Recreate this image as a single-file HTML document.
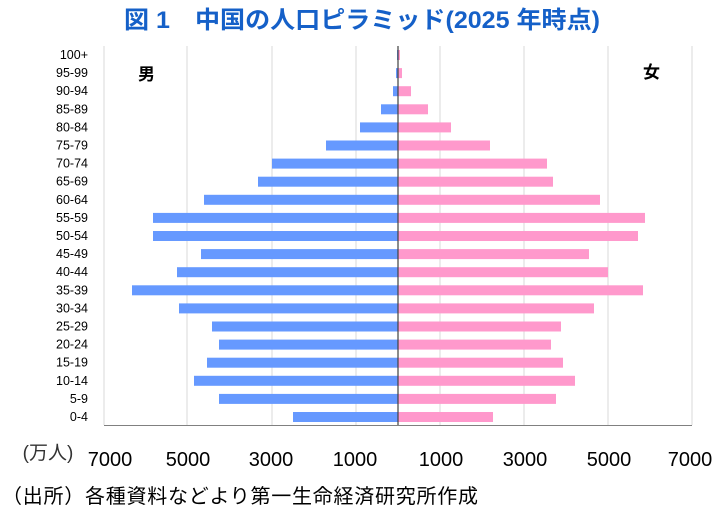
<!DOCTYPE html>
<html><head><meta charset="utf-8"><style>
body{margin:0;background:#fff;width:723px;height:515px;overflow:hidden;font-family:"Liberation Sans","Noto Sans CJK JP",sans-serif}
</style></head><body>
<svg width="723" height="515" xmlns="http://www.w3.org/2000/svg" font-family="Liberation Sans, Noto Sans CJK JP, sans-serif">
<text x="362" y="28" text-anchor="middle" font-size="24" font-weight="bold" fill="#1560c8" textLength="476" lengthAdjust="spacingAndGlyphs">図 1　中国の人口ピラミッド(2025 年時点)</text>
<g stroke="#d9d9d9" stroke-width="1">
<line x1="104" y1="46" x2="104" y2="425"/><line x1="187" y1="46" x2="187" y2="425"/><line x1="272" y1="46" x2="272" y2="425"/><line x1="356" y1="46" x2="356" y2="425"/>
<line x1="440" y1="46" x2="440" y2="425"/><line x1="524" y1="46" x2="524" y2="425"/><line x1="608" y1="46" x2="608" y2="425"/><line x1="692" y1="46" x2="692" y2="425"/>
</g>
<g id="bars"></g>
<line x1="104" y1="425.5" x2="692" y2="425.5" stroke="#808080" stroke-width="1"/>
<line x1="398" y1="46" x2="398" y2="425" stroke="#404040" stroke-width="1.2"/>
<g id="labels" font-size="12.5" text-anchor="end" fill="#000"></g>
<text x="138" y="80" font-size="17" font-weight="bold">男</text>
<text x="643" y="78" font-size="17" font-weight="bold">女</text>
<g font-size="20" fill="#000" text-anchor="middle">
<text x="48" y="459" font-size="19" fill="#333">(万人)</text>
<text x="110" y="466">7000</text><text x="188" y="466">5000</text><text x="271" y="466">3000</text><text x="355" y="466">1000</text>
<text x="441" y="466">1000</text><text x="525" y="466">3000</text><text x="609" y="466">5000</text><text x="690" y="466">7000</text>
</g>
<text x="2" y="503" font-size="20" fill="#000" textLength="476" lengthAdjust="spacing">（出所）各種資料などより第一生命経済研究所作成</text>
</svg>
<script>
var ages=["100+","95-99","90-94","85-89","80-84","75-79","70-74","65-69","60-64","55-59","50-54","45-49","40-44","35-39","30-34","25-29","20-24","15-19","10-14","5-9","0-4"];
var m=[397,396,393,381,360,326,272,258,204,153,153,201,177,132,179,212,219,207,194,219,293];
var f=[400,402,411,428,451,490,547,553,600,645,638,589,608,643,594,561,551,563,575,556,493];
var ns="http://www.w3.org/2000/svg",b=document.getElementById("bars"),l=document.getElementById("labels");
for(var i=0;i<21;i++){var y=55+i*18.1;
var r=document.createElementNS(ns,"rect");r.setAttribute("x",m[i]);r.setAttribute("y",y-5);r.setAttribute("width",398-m[i]);r.setAttribute("height",10);r.setAttribute("fill","#6699ff");b.appendChild(r);
r=document.createElementNS(ns,"rect");r.setAttribute("x",398);r.setAttribute("y",y-5);r.setAttribute("width",f[i]-398);r.setAttribute("height",10);r.setAttribute("fill","#ff99cc");b.appendChild(r);
var t=document.createElementNS(ns,"text");t.setAttribute("x",88);t.setAttribute("y",y+4);t.textContent=ages[i];l.appendChild(t);}
</script>
</body></html>
